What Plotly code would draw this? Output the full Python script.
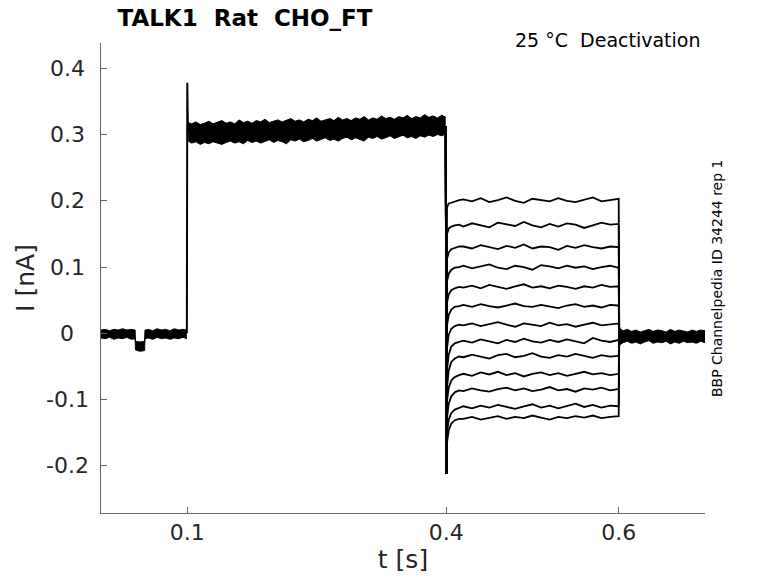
"""
TALK1 Rat CHO_FT - deactivation protocol at 25 C
Overlaid current sweeps drawn with plotly.
"""

import plotly.graph_objects as go

FONT = "DejaVu Sans"
TEXT_COLOR = "#262626"
AXIS_COLOR = "#666666"

# --- baseline before the pulse (envelope of all sweeps, nA) ---
T_PRE = [0.000, 0.005, 0.010, 0.015, 0.020, 0.025, 0.030, 0.035, 0.0395, 0.0400,
         0.0450, 0.0505, 0.0510, 0.055, 0.060, 0.065, 0.070, 0.075, 0.080, 0.085,
         0.090, 0.095, 0.0995]
PRE_HI = [0.005, 0.006, 0.004, 0.006, 0.005, 0.007, 0.005, 0.006, 0.005, -0.012,
          -0.013, -0.012, 0.005, 0.006, 0.004, 0.007, 0.005, 0.006, 0.004, 0.007,
          0.005, 0.006, 0.005]
PRE_LO = [-0.007, -0.008, -0.006, -0.009, -0.007, -0.008, -0.006, -0.009, -0.008, -0.025,
          -0.027, -0.026, -0.008, -0.007, -0.009, -0.006, -0.008, -0.007, -0.009, -0.007,
          -0.008, -0.006, -0.008]

# --- capacitive spike at pulse onset ---
SPIKE_T = [0.0995, 0.1000, 0.1004, 0.1010]
SPIKE_I = [0.000, 0.378, 0.335, 0.305]

# --- activating pulse (envelope) ---
T_HOLD = [0.1010, 0.105, 0.110, 0.115, 0.120, 0.125, 0.130, 0.135, 0.140, 0.145,
          0.150, 0.155, 0.160, 0.165, 0.170, 0.175, 0.180, 0.185, 0.190, 0.195,
          0.200, 0.205, 0.210, 0.215, 0.220, 0.225, 0.230, 0.235, 0.240, 0.245,
          0.250, 0.255, 0.260, 0.265, 0.270, 0.275, 0.280, 0.285, 0.290, 0.295,
          0.300, 0.305, 0.310, 0.315, 0.320, 0.325, 0.330, 0.335, 0.340, 0.345,
          0.350, 0.355, 0.360, 0.365, 0.370, 0.375, 0.380, 0.385, 0.390, 0.395,
          0.3995]
HOLD_HI = [0.318, 0.316, 0.319, 0.315, 0.317, 0.320, 0.316, 0.318, 0.321, 0.317,
           0.319, 0.316, 0.322, 0.318, 0.320, 0.317, 0.321, 0.319, 0.323, 0.318,
           0.320, 0.322, 0.319, 0.321, 0.324, 0.320, 0.322, 0.319, 0.323, 0.321,
           0.325, 0.320, 0.322, 0.324, 0.321, 0.326, 0.322, 0.324, 0.321, 0.325,
           0.323, 0.327, 0.322, 0.325, 0.323, 0.328, 0.324, 0.326, 0.323, 0.327,
           0.325, 0.329, 0.324, 0.327, 0.325, 0.330, 0.326, 0.328, 0.325, 0.329,
           0.326]
HOLD_LO = [0.290, 0.287, 0.289, 0.285, 0.288, 0.286, 0.289, 0.287, 0.285, 0.288,
           0.290, 0.287, 0.289, 0.286, 0.291, 0.288, 0.290, 0.287, 0.289, 0.292,
           0.288, 0.291, 0.289, 0.286, 0.292, 0.290, 0.293, 0.289, 0.291, 0.294,
           0.290, 0.292, 0.295, 0.291, 0.293, 0.290, 0.294, 0.296, 0.292, 0.295,
           0.293, 0.290, 0.296, 0.294, 0.297, 0.293, 0.295, 0.298, 0.294, 0.296,
           0.299, 0.295, 0.297, 0.294, 0.298, 0.296, 0.299, 0.297, 0.300, 0.298,
           0.301]

# --- tail step (one row per sweep) ---
DROP_T = [0.3995, 0.4003]
DROP_I = [0.312, -0.212]
T_TAIL = [0.401, 0.403, 0.406, 0.410, 0.415, 0.42, 0.43, 0.44, 0.45, 0.46, 0.47,
          0.48, 0.49, 0.50, 0.51, 0.52, 0.53, 0.54, 0.55, 0.56, 0.57, 0.58, 0.59, 0.599]
TAIL_SWEEPS = [
    [0.190, 0.196, 0.197, 0.199, 0.201, 0.202, 0.199, 0.204, 0.198, 0.201, 0.205, 0.200,
     0.197, 0.203, 0.201, 0.199, 0.204, 0.200, 0.198, 0.202, 0.205, 0.199, 0.201, 0.203],
    [0.150, 0.158, 0.161, 0.163, 0.164, 0.161, 0.166, 0.163, 0.160, 0.167, 0.164, 0.162,
     0.168, 0.163, 0.160, 0.165, 0.161, 0.166, 0.164, 0.159, 0.163, 0.167, 0.164, 0.165],
    [0.112, 0.122, 0.127, 0.129, 0.131, 0.131, 0.128, 0.133, 0.130, 0.127, 0.132, 0.129,
     0.134, 0.128, 0.131, 0.130, 0.126, 0.132, 0.129, 0.133, 0.130, 0.128, 0.131, 0.130],
    [0.078, 0.090, 0.096, 0.099, 0.100, 0.102, 0.098, 0.101, 0.104, 0.099, 0.097, 0.102,
     0.100, 0.096, 0.103, 0.101, 0.098, 0.102, 0.099, 0.101, 0.097, 0.100, 0.102, 0.099],
    [0.046, 0.059, 0.065, 0.068, 0.070, 0.069, 0.072, 0.068, 0.073, 0.070, 0.067, 0.071,
     0.074, 0.069, 0.071, 0.068, 0.072, 0.070, 0.067, 0.071, 0.069, 0.073, 0.070, 0.071],
    [0.012, 0.028, 0.036, 0.040, 0.041, 0.043, 0.040, 0.044, 0.041, 0.039, 0.042, 0.045,
     0.041, 0.040, 0.043, 0.041, 0.038, 0.042, 0.044, 0.040, 0.042, 0.039, 0.043, 0.042],
    [-0.022, -0.002, 0.007, 0.011, 0.013, 0.012, 0.015, 0.011, 0.014, 0.017, 0.013, 0.010,
     0.015, 0.013, 0.011, 0.016, 0.012, 0.014, 0.010, 0.013, 0.016, 0.012, 0.014, 0.015],
    [-0.055, -0.032, -0.020, -0.015, -0.013, -0.011, -0.014, -0.009, -0.012, -0.015, -0.010,
     -0.013, -0.008, -0.012, -0.014, -0.010, -0.013, -0.009, -0.012, -0.015, -0.007, -0.011,
     -0.013, -0.010],
    [-0.082, -0.056, -0.043, -0.038, -0.035, -0.036, -0.032, -0.035, -0.038, -0.033, -0.031,
     -0.036, -0.034, -0.030, -0.035, -0.037, -0.033, -0.035, -0.031, -0.034, -0.037, -0.033,
     -0.035, -0.034],
    [-0.102, -0.082, -0.071, -0.066, -0.063, -0.061, -0.064, -0.059, -0.062, -0.058, -0.063,
     -0.060, -0.065, -0.061, -0.059, -0.063, -0.060, -0.064, -0.061, -0.058, -0.062, -0.060,
     -0.063, -0.061],
    [-0.128, -0.106, -0.095, -0.089, -0.086, -0.087, -0.083, -0.086, -0.088, -0.084, -0.082,
     -0.086, -0.083, -0.087, -0.085, -0.081, -0.086, -0.084, -0.088, -0.083, -0.085, -0.082,
     -0.086, -0.084],
    [-0.150, -0.130, -0.120, -0.115, -0.112, -0.110, -0.113, -0.109, -0.112, -0.108, -0.111,
     -0.114, -0.110, -0.107, -0.112, -0.109, -0.113, -0.110, -0.106, -0.111, -0.108, -0.112,
     -0.109, -0.110],
    [-0.165, -0.146, -0.136, -0.131, -0.129, -0.129, -0.126, -0.130, -0.127, -0.125, -0.129,
     -0.126, -0.128, -0.124, -0.127, -0.130, -0.126, -0.128, -0.125, -0.127, -0.124, -0.128,
     -0.126, -0.125],
]
RETURN_T = [0.6000, 0.6006]
RETURN_I = -0.005

# --- baseline after the tail (envelope) ---
T_POST = [0.6006, 0.605, 0.61, 0.615, 0.62, 0.625, 0.63, 0.635, 0.64, 0.645, 0.65,
          0.655, 0.66, 0.665, 0.67, 0.675, 0.68, 0.685, 0.69, 0.695, 0.70]
POST_HI = [0.008, 0.004, 0.006, 0.003, 0.005, 0.002, 0.004, 0.006, 0.003, 0.005, 0.004,
           0.002, 0.006, 0.003, 0.005, 0.004, 0.002, 0.005, 0.003, 0.005, 0.004]
POST_LO = [-0.018, -0.014, -0.012, -0.015, -0.013, -0.016, -0.013, -0.011, -0.015, -0.013,
           -0.014, -0.012, -0.016, -0.013, -0.015, -0.012, -0.014, -0.013, -0.015, -0.012,
           -0.014]

X_TICKS = [0.1, 0.4, 0.6]
X_TICK_TEXT = ["0.1", "0.4", "0.6"]
Y_TICKS = [-0.2, -0.1, 0, 0.1, 0.2, 0.3, 0.4]
Y_TICK_TEXT = ["-0.2", "-0.1", "0", "0.1", "0.2", "0.3", "0.4"]

# plot area in page pixels
LEFT, RIGHT, TOP, BOTTOM = 101, 705, 43, 513
W, H = 778, 583


def add_band(fig, t, lo, hi):
    """Black band between two envelope curves."""
    fig.add_trace(go.Scatter(x=t, y=lo, mode="lines",
                             line=dict(color="black", width=1)))
    fig.add_trace(go.Scatter(x=t, y=hi, mode="lines", fill="tonexty",
                             fillcolor="black", line=dict(color="black", width=1)))


fig = go.Figure()

add_band(fig, T_PRE, PRE_LO, PRE_HI)
add_band(fig, T_HOLD, HOLD_LO, HOLD_HI)
add_band(fig, T_POST, POST_LO, POST_HI)

fig.add_trace(go.Scatter(x=SPIKE_T, y=SPIKE_I, mode="lines",
                         line=dict(color="black", width=2)))

for sweep in TAIL_SWEEPS:
    xs = DROP_T + T_TAIL + RETURN_T
    ys = DROP_I + sweep + [sweep[-1], RETURN_I]
    fig.add_trace(go.Scatter(x=xs, y=ys, mode="lines",
                             line=dict(color="black", width=1.8)))

# y tick labels are centred (as in the original figure), so place them as annotations
label_x = (67 - LEFT) / (RIGHT - LEFT)
annotations = [
    dict(text=txt, xref="paper", yref="y", x=label_x, y=val,
         xanchor="center", yanchor="middle", showarrow=False,
         font=dict(family=FONT, size=22, color=TEXT_COLOR))
    for val, txt in zip(Y_TICKS, Y_TICK_TEXT)
]
annotations += [
    dict(text="25 °C\u00a0\u00a0Deactivation", xref="paper", yref="paper",
         x=0.995, y=1.006, xanchor="right", yanchor="middle", showarrow=False,
         font=dict(family=FONT, size=19, color="black")),
    dict(text="BBP Channelpedia ID 34244 rep 1", xref="paper", yref="paper",
         x=1.02, y=0.5, xanchor="center", yanchor="middle", textangle=-90,
         showarrow=False, font=dict(family=FONT, size=14, color="black")),
]

fig.update_layout(
    width=W,
    height=H,
    margin=dict(l=LEFT, r=W - RIGHT, t=TOP, b=H - BOTTOM),
    paper_bgcolor="white",
    plot_bgcolor="white",
    showlegend=False,
    font=dict(family=FONT, color=TEXT_COLOR),
    title=dict(text="<b>TALK1\u00a0\u00a0Rat\u00a0\u00a0CHO_FT</b>",
               xref="container", yref="container",
               x=245 / W, xanchor="center",
               y=1 - 18 / H, yanchor="middle",
               font=dict(family=FONT, size=23, color="black")),
    xaxis=dict(
        range=[0, 0.7], tickvals=X_TICKS, ticktext=X_TICK_TEXT,
        ticks="inside", ticklen=6, tickcolor=AXIS_COLOR,
        showline=True, linecolor=AXIS_COLOR, linewidth=1,
        showgrid=False, zeroline=False, automargin=False,
        tickfont=dict(size=22, color=TEXT_COLOR),
        title=dict(text="t [s]", font=dict(size=25, color=TEXT_COLOR), standoff=6),
    ),
    yaxis=dict(
        range=[-0.271, 0.438], tickvals=Y_TICKS, showticklabels=False,
        ticks="inside", ticklen=6, tickcolor=AXIS_COLOR,
        showline=True, linecolor=AXIS_COLOR, linewidth=1,
        showgrid=False, zeroline=False, automargin=False,
        title=dict(text="I [nA]", font=dict(size=25, color=TEXT_COLOR), standoff=58),
    ),
    annotations=annotations,
)

# drop the default 8px page margin so the figure sits at the window's corner
fig.write_html("out.html", config={"displayModeBar": False},
               post_script="document.body.style.margin = '0px';")
